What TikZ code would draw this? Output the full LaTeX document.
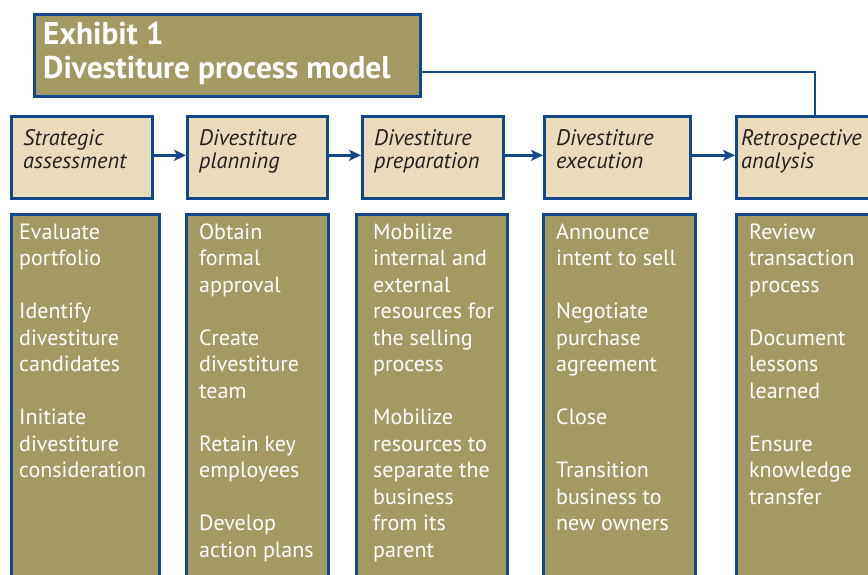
\documentclass[tikz,border=0pt]{standalone}
\usepackage{fontspec}
\setmainfont{PT Sans}
\usetikzlibrary{arrows.meta}
\definecolor{olivefill}{RGB}{163,154,99}
\definecolor{creamfill}{RGB}{234,220,186}
\definecolor{navyline}{RGB}{18,72,138}
\definecolor{darktext}{RGB}{35,31,32}
\begin{document}
\begin{tikzpicture}[x=1pt,y=-1pt,
  box/.style={draw=navyline,line width=2.6pt,rectangle,inner sep=0pt,anchor=north west},
  stagebox/.style={box,fill=creamfill,minimum height=82pt},
  listbox/.style={box,fill=olivefill,minimum height=400pt},
  titlebox/.style={box,fill=olivefill},
  titletext/.style={anchor=north west,inner sep=0pt,align=left,text=white,
    font=\fontsize{31.4}{34}\selectfont\bfseries,execute at begin node={\vrule height 25pt width 0pt}},
  stagetext/.style={anchor=north west,inner sep=0pt,align=left,text=darktext,
    font=\fontsize{22.4}{23.5}\selectfont\itshape,execute at begin node={\vrule height 20pt width 0pt}},
  listtext/.style={anchor=north west,inner sep=0pt,align=left,text=white,
    font=\fontsize{22}{26.5}\selectfont,execute at begin node={\vrule height 20pt width 0pt}},
  flow/.style={draw=navyline,line width=2.6pt,-{Stealth[length=12pt,width=11pt,inset=3pt]}},
  link/.style={draw=navyline,line width=2.6pt}
]
\useasboundingbox (0,0) rectangle (868,575);

% title
\node[titlebox,minimum width=386pt,minimum height=82pt] (title) at (33,13) {};
\node[titletext] (ttext) at (43,22) {Exhibit 1\\Divestiture process model};

% stage boxes
\node[stagebox,minimum width=141pt] (s1) at (10,115) {};
\node[stagebox,minimum width=140pt] (s2) at (186,115) {};
\node[stagebox,minimum width=141pt] (s3) at (361,115) {};
\node[stagebox,minimum width=146pt] (s4) at (543,115) {};
\node[stagebox,minimum width=170pt] (s5) at (735,115) {};

\node[stagetext] (t1) at (23,129) {Strategic\\assessment};
\node[stagetext] (t2) at (199,129) {Divestiture\\planning};
\node[stagetext] (t3) at (374,129) {Divestiture\\preparation};
\node[stagetext] (t4) at (556,129) {Divestiture\\execution};
\node[stagetext] (t5) at (741,129) {Retrospective\\analysis};

% arrows
\draw[flow] ([yshift=2pt]s1.east) -- ([yshift=2pt]s2.west);
\draw[flow] ([yshift=2pt]s2.east) -- ([yshift=2pt]s3.west);
\draw[flow] ([yshift=2pt]s3.east) -- ([yshift=2pt]s4.west);
\draw[flow] ([yshift=2pt]s4.east) -- ([yshift=2pt]s5.west);

% title connector
\coordinate (turn) at (815,72);
\draw[link] (title.east |- turn) -- (turn) -- (turn |- s5.north);

% list boxes
\node[listbox,minimum width=148pt] (b1) at (10,213) {};
\node[listbox,minimum width=142pt] (b2) at (185,213) {};
\node[listbox,minimum width=151pt] (b3) at (355,213) {};
\node[listbox,minimum width=152pt] (b4) at (542,213) {};
\node[listbox,minimum width=170pt] (b5) at (735,213) {};

\node[listtext] (l1) at (19,223.5) {Evaluate\\portfolio\\[26.5pt]Identify\\divestiture\\candidates\\[26.5pt]Initiate\\divestiture\\consideration};
\node[listtext] (l2) at (199,223.5) {Obtain\\formal\\approval\\[26.5pt]Create\\divestiture\\team\\[26.5pt]Retain key\\employees\\[26.5pt]Develop\\action plans};
\node[listtext] (l3) at (373,223.5) {Mobilize\\internal and\\external\\resources for\\the selling\\process\\[26.5pt]Mobilize\\resources to\\separate the\\business\\from its\\parent};
\node[listtext] (l4) at (556,223.5) {Announce\\intent to sell\\[26.5pt]Negotiate\\purchase\\agreement\\[26.5pt]Close\\[26.5pt]Transition\\business to\\new owners};
\node[listtext] (l5) at (749,223.5) {Review\\transaction\\process\\[26.5pt]Document\\lessons\\learned\\[26.5pt]Ensure\\knowledge\\transfer};
\end{tikzpicture}
\end{document}
